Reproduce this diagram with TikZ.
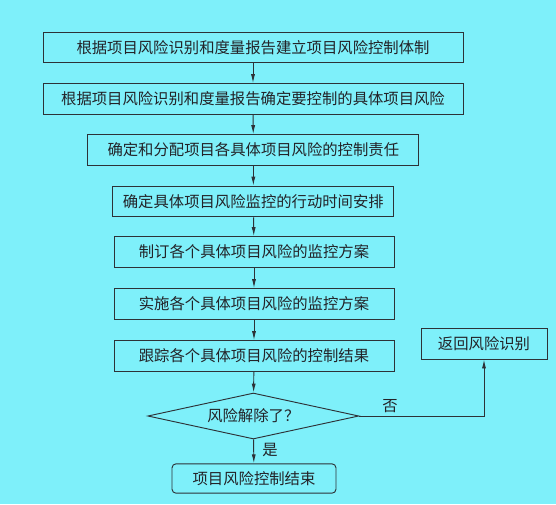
\documentclass[tikz,border=0pt]{standalone}
\usepackage{fontspec}
\usepackage{xcolor}
\usepackage{tikz}
\usetikzlibrary{positioning,shapes.geometric,arrows.meta}

\newfontfamily\cjk{Noto Sans CJK SC}
\definecolor{bgcyan}{RGB}{126,240,250}
\definecolor{linegray}{RGB}{45,50,55}
\definecolor{textgray}{RGB}{35,35,40}

\tikzset{
    stepbox/.style = {draw = linegray, line width = 0.8pt, text = textgray, inner sep = 0pt,
                      minimum height = 0.92cm, font = \cjk\fontsize{13.1}{15}\selectfont},
    decision/.style = {stepbox, diamond, aspect = 4.6, minimum width = 6.33cm, minimum height = 1.38cm},
    mark label/.style = {text = textgray, inner sep = 0pt, font = \cjk\fontsize{13.1}{15}\selectfont},
    link/.style = {->, draw = linegray, line width = 0.8pt}
}

\begin{document}
\begin{tikzpicture}[>={Latex[length=2.7mm, width=1.2mm]}]
            \fill[bgcyan] (0, 0) rectangle (16.68, -15.12);

            \node[stepbox, minimum width = 12.6cm] (setup) at (7.59, -1.425) {根据项目风险识别和度量报告建立项目风险控制体制};
            \node[stepbox, minimum width = 12.6cm] (choose) at (7.59, -2.97) {根据项目风险识别和度量报告确定要控制的具体项目风险};
            \node[stepbox, minimum width = 9.93cm] (assign) at (7.6, -4.5) {确定和分配项目各具体项目风险的控制责任};
            \node[stepbox, minimum width = 8.43cm] (timing) at (7.6, -6.045) {确定具体项目风险监控的行动时间安排};
            \node[stepbox, minimum width = 8.4cm] (plan) at (7.62, -7.56) {制订各个具体项目风险的监控方案};
            \node[stepbox, minimum width = 8.4cm] (apply) at (7.62, -9.12) {实施各个具体项目风险的监控方案};
            \node[stepbox, minimum width = 8.4cm] (track) at (7.62, -10.68) {跟踪各个具体项目风险的控制结果};
            \node[decision] (check) at (7.6, -12.48) {风险解除了？};
            \node[stepbox, rounded corners = 0.12cm, minimum width = 4.92cm, minimum height = 0.88cm] (finish) at (7.62, -14.355) {项目风险控制结束};
            \node[stepbox, minimum width = 3.78cm, minimum height = 0.93cm] (back) at (14.52, -10.305) {返回风险识别};

            \node[mark label] (no) at (11.7, -12.18) {否};
            \node[mark label] (yes) at (8.1, -13.5) {是};

            \draw[link] (setup) -- (choose);
            \draw[link] (choose) -- (assign);
            \draw[link] (assign) -- (timing);
            \draw[link] (timing) -- (plan);
            \draw[link] (plan) -- (apply);
            \draw[link] (apply) -- (track);
            \draw[link] (track) -- (check);
            \draw[link] (check) -- (finish);
            \draw[link] (check.east) -| (back.south);

        \end{tikzpicture}
\end{document}
